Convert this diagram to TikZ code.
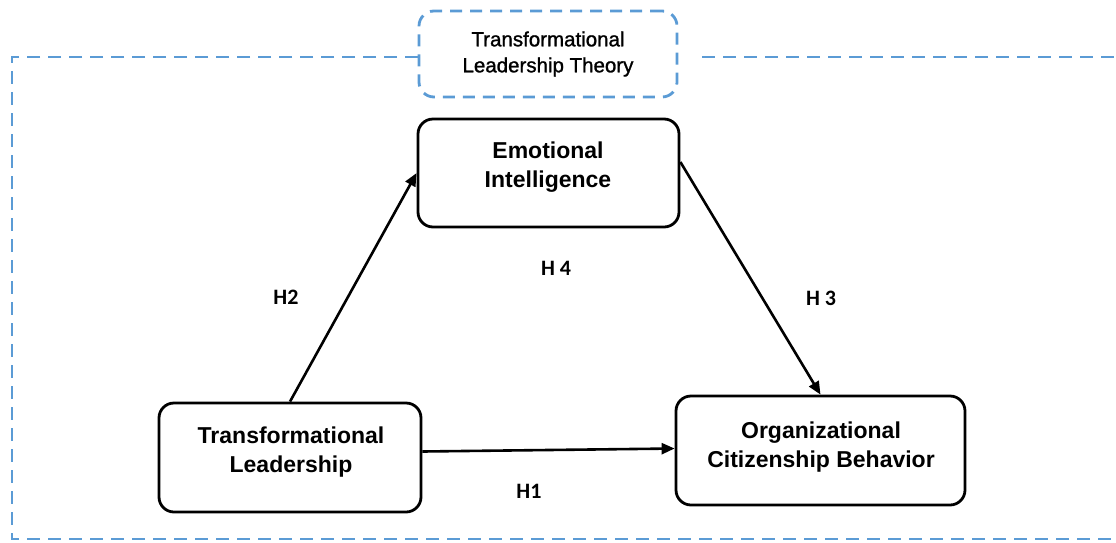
\documentclass[tikz,border=0pt]{standalone}
\usepackage{fontspec}
\setmainfont{Liberation Sans}
\newfontfamily\hypfont{Carlito}
\newfontfamily\theoryfont[FakeBold=1.2]{Liberation Sans}
\usetikzlibrary{arrows.meta,calc}
\definecolor{frameblue}{HTML}{5B9BD5}
\begin{document}
\begin{tikzpicture}[x=1pt,y=-1pt,
  construct/.style={draw=black,line width=2.8pt,rounded corners=15pt,fill=white,inner sep=0pt},
  constructtext/.style={align=center,inner sep=0pt,font=\fontsize{23}{29}\selectfont\bfseries},
  theorybox/.style={draw=frameblue,line width=2.8pt,dash pattern=on 12pt off 8pt,rounded corners=15pt,
    inner sep=0pt,minimum width=258pt,minimum height=86pt,align=center,
    font=\theoryfont\fontsize{20.5}{26}\selectfont},
  frameline/.style={draw=frameblue,line width=2.8pt,dash pattern=on 13pt off 8pt},
  link/.style={draw=black,line width=2.6pt,-{Triangle[length=13pt,width=11pt]}},
  hyp/.style={inner sep=0pt,font=\hypfont\bfseries\fontsize{22}{26}\selectfont}
]
\useasboundingbox (0,0) rectangle (1116,542);
\clip (0,0) rectangle (1116,542);

% outer research frame
\draw[frameline] (418,57) -- (12,57) -- (12,539) -- (1130,539);
\draw[frameline] (702,57) -- (1130,57);

% theory box
\node[theorybox] (theory) at (548,54) {Transformational\\Leadership Theory};

% constructs
\node[construct,minimum width=261pt,minimum height=108pt] (ei) at (548.5,173) {};
\node[constructtext] (eitext) at (548,167.5) {Emotional\\Intelligence};

\node[construct,minimum width=262pt,minimum height=109pt] (tl) at (290,457.5) {};
\node[constructtext] (tltext) at (291,452) {Transformational\\Leadership};

\node[construct,minimum width=289pt,minimum height=109pt] (ocb) at (820.5,450.5) {};
\node[constructtext] (ocbtext) at (821,447) {Organizational\\Citizenship Behavior};

% hypothesised paths
\draw[link] (tl.north) -- (ei.west);
\draw[link] ($(ei.east)+(0,-11)$) -- (ocb.north);
\draw[link] ($(tl.east)+(0,-6)$) -- ($(ocb.west)+(0,-2)$);

% hypothesis labels
\node[hyp] (h2) at (286,297) {H2};
\node[hyp] (h4) at (556,268) {H 4};
\node[hyp] (h3) at (821,298) {H 3};
\node[hyp] (h1) at (529,491) {H1};
\end{tikzpicture}
\end{document}
